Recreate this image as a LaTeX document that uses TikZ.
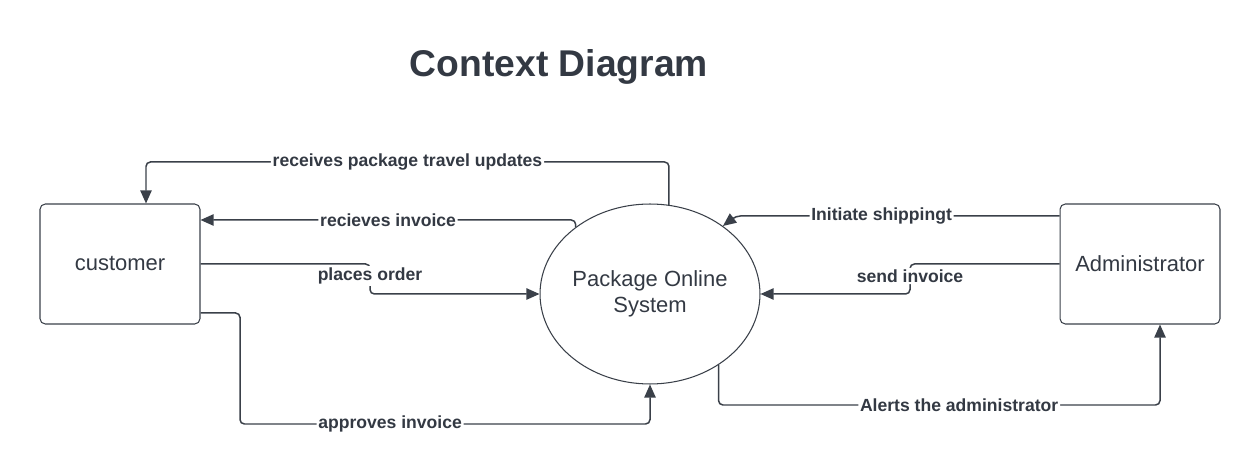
\documentclass[tikz,border=0pt]{standalone}
\usepackage{fontspec}
\setmainfont{Liberation Sans}
\usetikzlibrary{arrows.meta,shapes.geometric}
\definecolor{ink}{HTML}{3A4049}
\definecolor{txt}{HTML}{333943}
\tikzset{
  entity/.style={draw=ink, line width=0.6pt, rounded corners=3pt, minimum width=3.2cm, minimum height=2.4cm, font=\fontsize{12.5}{15}\selectfont, text=txt},
  proc/.style={draw=ink, line width=0.6pt, ellipse, inner sep=0pt, minimum width=4.4cm, minimum height=3.6cm},
  proctext/.style={align=center, font=\fontsize{12.5}{15}\selectfont, text=txt},
  flow/.style={draw=ink, line width=0.85pt, rounded corners=2.5pt, -{Triangle[length=7.5pt,width=6.5pt]}},
  lbl/.style={fill=white, inner sep=1pt, font=\fontsize{10}{12}\selectfont\bfseries, text=txt},
}
\begin{document}
\begin{tikzpicture}[x=0.02cm,y=-0.02cm]
\useasboundingbox (0,0) rectangle (1260,475);
\node[font=\fontsize{21.2}{25}\selectfont\bfseries, text=txt] (title) at (559,67) {Context Diagram};
\node[entity] (cust) at (120,264) {customer};
\node[entity] (admin) at (1140,264) {Administrator};
\node[proc] (sys) at (650,294) {};
\node[proctext] (systxt) at (sys.center) {Package Online\\System};
\coordinate (adminin) at (admin.south -| 1160,0);
% receives package travel updates
\draw[flow] (sys.78.6) -- (sys.78.6 |- 0,162) -- node[lbl]{receives package travel updates} (146,162) -- (cust.north -| 146,0);
% recieves invoice
\draw[flow] (sys.138.7) -- (sys.138.7 |- 0,220) -- node[lbl]{recieves invoice} (cust.east |- 0,220);
% places order
\draw[flow] (cust.east) -- (370,264) -- node[lbl,pos=0.4]{places order} (370,294) -- (sys.west);
% approves invoice
\draw[flow] (cust.east |- 0,313) -- (240,313) -- (240,424) -- node[lbl,pos=0.366]{approves invoice} (sys.south |- 0,424) -- (sys.south);
% Initiate shippingt
\draw[flow] (admin.west |- 0,216) -- node[lbl,pos=0.55]{Initiate shippingt} (736,216) -- (sys.43.8);
% send invoice
\draw[flow] (admin.west) -- (910,264) -- node[lbl,pos=0.4]{send invoice} (910,294) -- (sys.east);
% Alerts the administrator
\draw[flow] (sys.-46.2) -- (sys.-46.2 |- 0,405) -- node[lbl,pos=0.545]{Alerts the administrator} (adminin |- 0,405) -- (adminin);
\end{tikzpicture}
\end{document}
